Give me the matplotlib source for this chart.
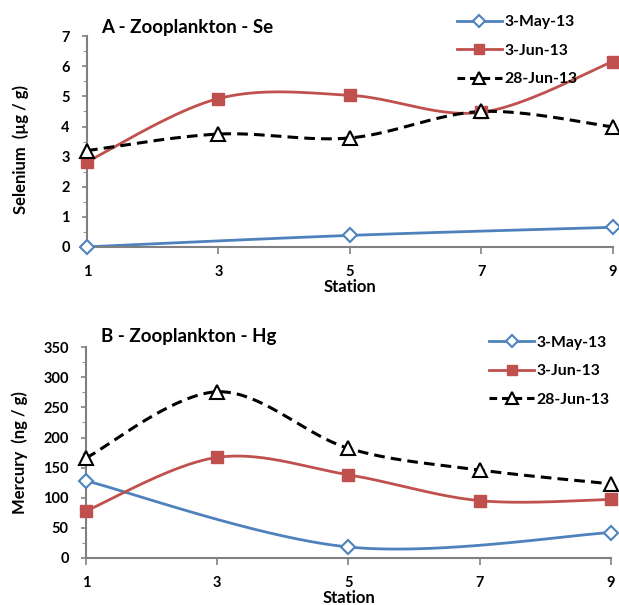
import numpy as np
import matplotlib
matplotlib.use('Agg')
import matplotlib.pyplot as plt
from matplotlib.ticker import MultipleLocator

plt.rcParams['font.family'] = ['Lato', 'DejaVu Sans']
plt.rcParams['font.weight'] = 'bold'

# Stations and sampling dates
stations = [1, 3, 5, 7, 9]
stations_may = [1, 5, 9]
dates = ['3-May-13', '3-Jun-13', '28-Jun-13']

# Selenium in zooplankton (ug/g)
se_may = [0.0, 0.38, 0.65]
se_jun3 = [2.83, 4.93, 5.04, 4.47, 6.16]
se_jun28 = [3.2, 3.75, 3.62, 4.5, 3.99]

# Mercury in zooplankton (ng/g)
hg_may = [128, 18, 42]
hg_jun3 = [78, 167, 138, 95, 97]
hg_jun28 = [166, 276, 182, 146, 123]

blue = '#4F81BD'
red = '#C0504D'


def smooth(x, y, n=40):
    # bezier smoothing through the points (same as a spreadsheet "smoothed line")
    x = np.asarray(x, float)
    y = np.asarray(y, float)
    px = np.concatenate([[x[0]], x, [x[-1]]])
    py = np.concatenate([[y[0]], y, [y[-1]]])
    xs, ys = [], []
    t = np.linspace(0, 1, n)
    for i in range(1, len(px) - 2):
        p0 = np.array([px[i], py[i]])
        p3 = np.array([px[i + 1], py[i + 1]])
        c1 = p0 + (np.array([px[i + 1], py[i + 1]]) - np.array([px[i - 1], py[i - 1]])) / 6.0
        c2 = p3 - (np.array([px[i + 2], py[i + 2]]) - np.array([px[i], py[i]])) / 6.0
        b = ((1 - t) ** 3)[:, None] * p0 + (3 * (1 - t) ** 2 * t)[:, None] * c1 \
            + (3 * (1 - t) * t ** 2)[:, None] * c2 + (t ** 3)[:, None] * p3
        xs.extend(b[:, 0])
        ys.extend(b[:, 1])
    return xs, ys


def panel(ax, may, jun3, jun28, ymax, ystep, ylabel, ylab_y):
    sx, sy = smooth(stations_may, may)
    ax.plot(sx, sy, color=blue, lw=2.0, clip_on=False)
    ax.plot(stations_may, may, ls='none', marker='D', ms=7, mfc='white', mec=blue, mew=1.5, clip_on=False, zorder=5)
    sx, sy = smooth(stations, jun3)
    ax.plot(sx, sy, color=red, lw=2.0, clip_on=False)
    ax.plot(stations, jun3, ls='none', marker='s', ms=8, color=red, clip_on=False, zorder=5)
    sx, sy = smooth(stations, jun28)
    ax.plot(sx, sy, color='black', lw=2.2, ls=(0, (3.5, 2)), clip_on=False)
    ax.plot(stations, jun28, ls='none', marker='^', ms=10, mfc='white', mec='black', mew=1.5, clip_on=False, zorder=5)

    # legend proxies
    h1, = ax.plot([], [], color=blue, lw=2.0, marker='D', ms=6, mfc='white', mec=blue, mew=1.5)
    h2, = ax.plot([], [], color=red, lw=2.0, marker='s', ms=7)
    h3, = ax.plot([], [], color='black', lw=2.2, ls=(0, (2.5, 1.6)), marker='^', ms=8, mfc='white', mec='black', mew=1.5)

    ax.set_xlim(1, 9)
    ax.set_ylim(0, ymax)
    ax.set_xticks(stations)
    ax.yaxis.set_major_locator(MultipleLocator(ystep))
    ax.yaxis.set_minor_locator(MultipleLocator(ystep / 2.0))
    ax.tick_params(axis='both', labelsize=10.5, direction='out', color='#808080', width=1.2)
    ax.tick_params(axis='y', which='major', pad=9)
    ax.tick_params(axis='y', which='minor', length=3, color='#808080')
    ax.tick_params(axis='x', length=5, pad=8)
    for s in ['top', 'right']:
        ax.spines[s].set_visible(False)
    for s in ['left', 'bottom']:
        ax.spines[s].set_color('#808080')
        ax.spines[s].set_linewidth(1.5)
    ax.set_xlabel('Station', fontsize=12, fontweight='bold', labelpad=0)
    ax.set_ylabel(ylabel, fontsize=12, fontweight='bold', va='center')
    ax.yaxis.set_label_coords(-0.127, ylab_y)
    return h1, h2, h3


fig = plt.figure(figsize=(6.19, 6.05), dpi=100)

ax1 = fig.add_axes([0.1406, 0.592, 0.849, 0.348])
hs = panel(ax1, se_may, se_jun3, se_jun28, 7, 1, 'Selenium  (µg / g)', 0.46)
fig.text(0.163, 0.955, 'A - Zooplankton - Se', fontsize=13.5, fontweight='bold', va='center')
fig.legend(hs, dates, loc='upper left', bbox_to_anchor=(0.715, 0.998), frameon=False,
           fontsize=11.3, handlelength=2.9, labelspacing=0.92, handletextpad=0.15)

ax2 = fig.add_axes([0.139, 0.078, 0.848, 0.348])
hs = panel(ax2, hg_may, hg_jun3, hg_jun28, 350, 50, 'Mercury  (ng / g)', 0.5)
fig.text(0.163, 0.443, 'B - Zooplankton - Hg', fontsize=13.5, fontweight='bold', va='center')
fig.legend(hs, dates, loc='upper left', bbox_to_anchor=(0.767, 0.468), frameon=False,
           fontsize=11.3, handlelength=2.9, labelspacing=0.92, handletextpad=0.15)

fig.savefig('out.png', dpi=100)
